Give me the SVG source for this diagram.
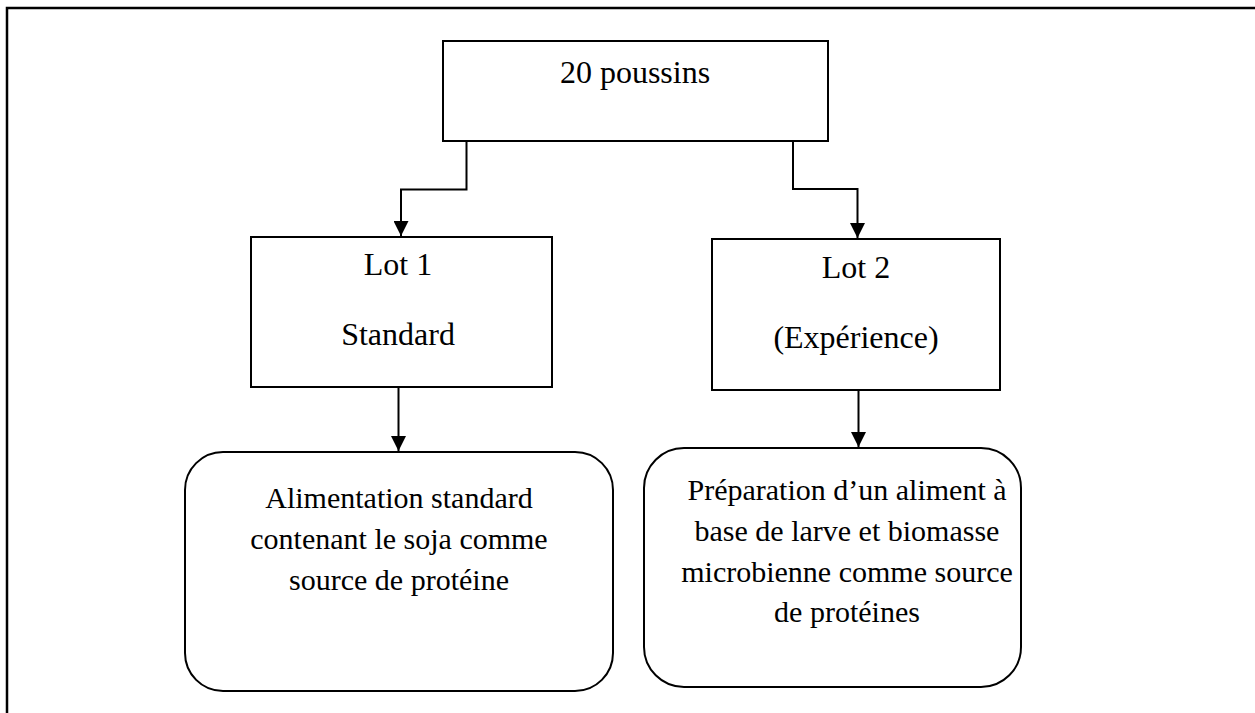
<svg xmlns="http://www.w3.org/2000/svg" width="1255" height="713" viewBox="0 0 1255 713">
<style>
.box{fill:#fff;stroke:#000;stroke-width:2}
.t{font-family:"Liberation Serif","Times New Roman",serif;font-size:32px;fill:#000;text-anchor:middle}
.t2{font-family:"Liberation Serif","Times New Roman",serif;font-size:30px;fill:#000;text-anchor:middle}
.c{fill:none;stroke:#000;stroke-width:2}
</style>
<defs>
<marker id="ah" viewBox="0 0 10 10" refX="10" refY="5" markerWidth="15" markerHeight="15" markerUnits="userSpaceOnUse" orient="auto">
<path d="M0,0 L10,5 L0,10 z" fill="#000"/>
</marker>
</defs>
<path d="M7,713 V8 H1255" fill="none" stroke="#000" stroke-width="2.5"/>
<g id="n-poussins">
<rect class="box" x="443" y="41" width="385" height="100"/>
<text class="t" x="635" y="83">20 poussins</text>
</g>
<g id="n-lot1">
<rect class="box" x="251" y="237" width="301" height="150"/>
<text class="t" x="398" y="275">Lot 1</text>
<text class="t" x="398" y="345">Standard</text>
</g>
<g id="n-lot2">
<rect class="box" x="712" y="239" width="288" height="151"/>
<text class="t" x="856" y="278">Lot 2</text>
<text class="t" x="856" y="348">(Expérience)</text>
</g>
<g id="n-alim1">
<rect class="box" x="185" y="452" width="428" height="239" rx="38" ry="38"/>
<text class="t2" x="399" y="508">Alimentation standard</text>
<text class="t2" x="399" y="549">contenant le soja comme</text>
<text class="t2" x="399" y="590">source de protéine</text>
</g>
<g id="n-alim2">
<rect class="box" x="644" y="448" width="377" height="239" rx="40" ry="40"/>
<text class="t2" x="847" y="500">Préparation d’un aliment à</text>
<text class="t2" x="847" y="541">base de larve et biomasse</text>
<text class="t2" x="847" y="582">microbienne comme source</text>
<text class="t2" x="847" y="622">de protéines</text>
</g>
<g id="connectors">
<path class="c" d="M466.5,141 V189.5 H401 V236" marker-end="url(#ah)"/>
<path class="c" d="M793,141 V189 H857.5 V238" marker-end="url(#ah)"/>
<path class="c" d="M398.5,387 V451" marker-end="url(#ah)"/>
<path class="c" d="M858.5,390 V447" marker-end="url(#ah)"/>
</g>
</svg>
